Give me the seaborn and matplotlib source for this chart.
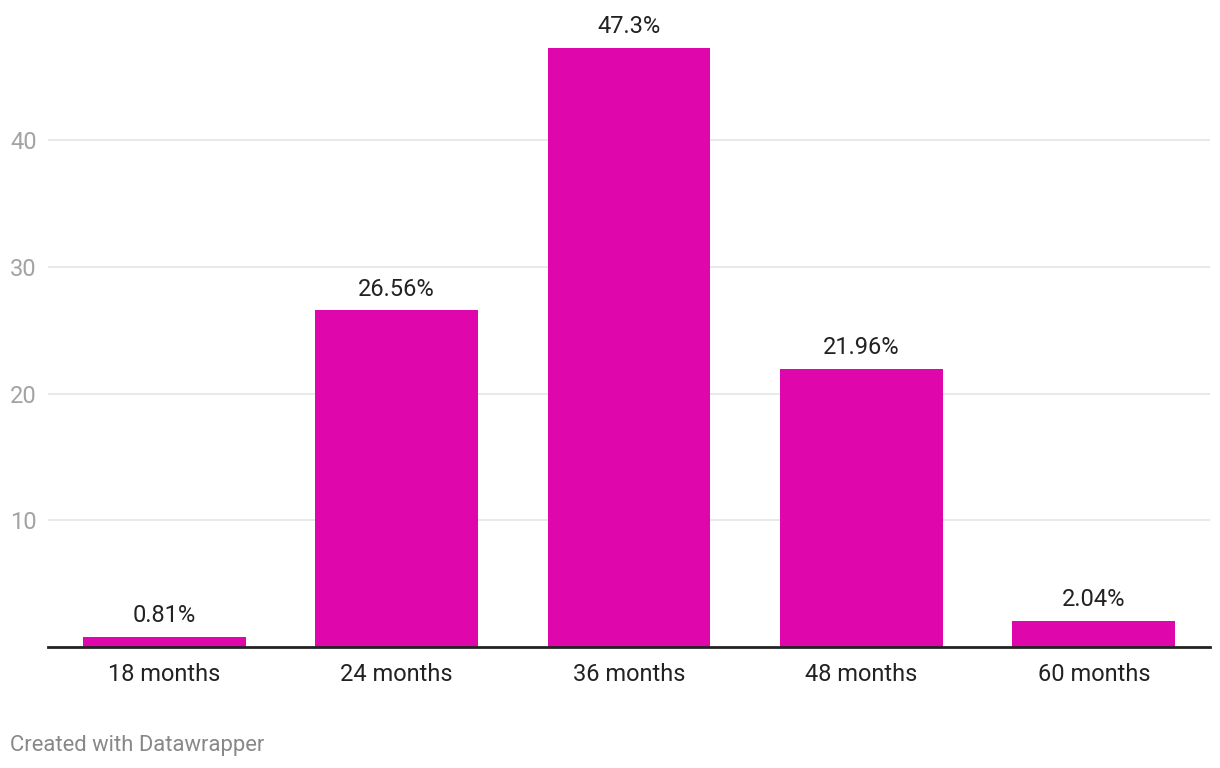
import pandas as pd
import matplotlib.pyplot as plt
import seaborn as sns

# Loan term distribution
terms = ["18 months", "24 months", "36 months", "48 months", "60 months"]
shares = [0.81, 26.56, 47.3, 21.96, 2.04]
labels = ["0.81%", "26.56%", "47.3%", "21.96%", "2.04%"]

data = pd.DataFrame({"Term": terms, "Share": shares})

sns.set_theme(style="white")
plt.rcParams["font.family"] = ["Roboto", "DejaVu Sans"]

fig = plt.figure(figsize=(12.2, 7.68), dpi=100)
ax = fig.add_axes([48 / 1220, 121 / 768, (1210 - 48) / 1220, (647 - 13.3) / 768])

sns.barplot(data=data, x="Term", y="Share", color="#df07ab", width=0.70,
            saturation=1, linewidth=0, ax=ax, zorder=3)

ax.set_ylim(0, 50)
ax.set_xlim(-0.5, 4.5)
ax.set_yticks([10, 20, 30, 40])
ax.yaxis.grid(True, color="#e5e5e5", linewidth=1.2, zorder=0)
ax.set_axisbelow(True)

for s in ["top", "right", "left"]:
    ax.spines[s].set_visible(False)
ax.spines["bottom"].set_color("#222222")
ax.spines["bottom"].set_linewidth(2)
ax.spines["bottom"].set_zorder(4)

ax.tick_params(axis="y", length=0, pad=8, labelsize=17, labelcolor="#a3a3a3")
ax.tick_params(axis="x", length=0, pad=11.5, labelsize=17, labelcolor="#222222")
for lbl in ax.get_yticklabels():
    lbl.set_horizontalalignment("right")
ax.set_xlabel("")
ax.set_ylabel("")

# value labels above bars
for i, (v, t) in enumerate(zip(shares, labels)):
    ax.annotate(t, (i, v), xytext=(0, 7), textcoords="offset points",
                ha="center", va="bottom", fontsize=17, color="#222222")

fig.text(10 / 1220, 1 - 745 / 768, "Created with Datawrapper", fontsize=15.8,
         color="#888888", ha="left", va="center")

plt.savefig("out.png", dpi=100)
